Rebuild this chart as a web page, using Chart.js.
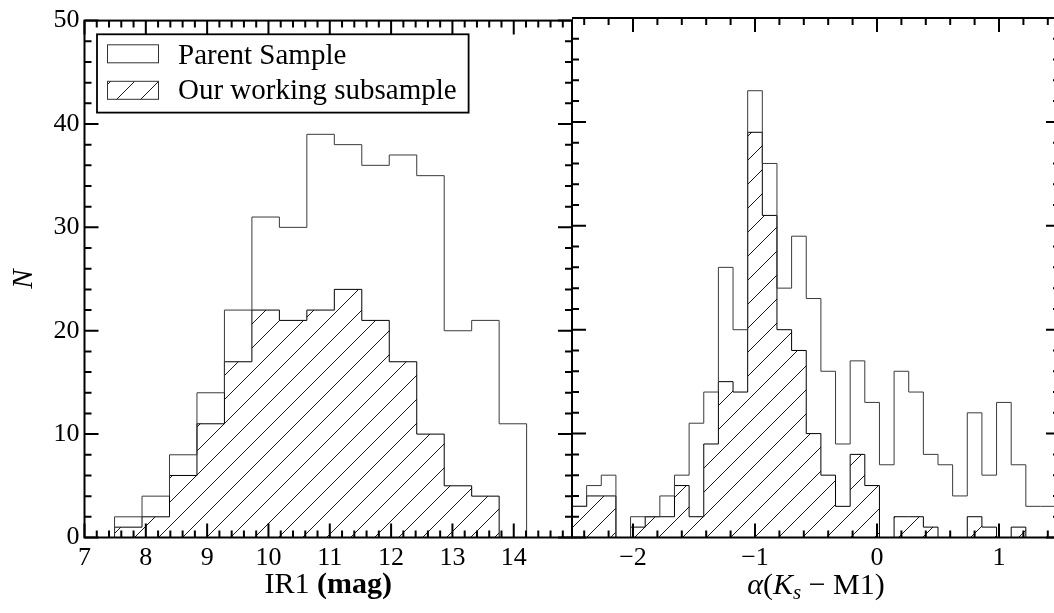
<!DOCTYPE html>
<html>
<head>
<meta charset="utf-8">
<script src="https://cdn.jsdelivr.net/npm/chart.js@4.4.1/dist/chart.umd.min.js"></script>
<style>
html, body { margin:0; padding:0; background:#fff; overflow:hidden; width:1054px; height:613px; }
#left { position:absolute; left:0; top:0; width:574px; height:613px; }
#right { position:absolute; left:572px; top:0; width:488px; height:613px; }
</style>
</head>
<body>
<div id="left"><canvas id="c1"></canvas></div>
<div id="right"><canvas id="c2"></canvas></div>
<script>
// left panel: IR1 magnitude histogram
var irStart = 7.49, irWidth = 0.448;
var irParent = [2,4,8,14,22,31,30,39,38,36,37,35,20,21,11];
var irSub    = [1,2,6,11,17,22,21,22,24,21,17,10,5,4,0];
var irTicks  = [7,8,9,10,11,12,13,14];

// right panel: alpha(Ks - M1) histogram
var alStart = -2.5, alWidth = 0.12;
var alParent = [3,5,6,0,2,2,4,6,11,14,26,20,43,36,24,29,23,16,9,17,13,7,16,14,8,7,4,12,6,13,7,3,3];
var alSub    = [3,4,4,0,1,2,2,5,2,9,15,14,39,31,20,18,10,6,3,8,5,0,2,2,1,0,0,2,1,0,1,0,0];
var alTicks  = [-2,-1,0,1];
var alLabels = ['\u22122','\u22121','0','1'];

var yTicks = [0,10,20,30,40,50];
var seriesNames = ['Parent Sample', 'Our working subsample'];

var SERIF = '"Liberation Serif", "Times New Roman", serif';

function stepPoints(start, w, vals) {
  // point i+1 sits at the right edge of bin i; stepped 'before' draws bin tops
  var p = [{x:start, y:0}];
  for (var i = 0; i < vals.length; i++) {
    p.push({x:start + i*w, y:vals[i]});
    p.push({x:start + (i+1)*w, y:vals[i]});
  }
  p.push({x:start + vals.length*w, y:0});
  return p;
}

function makeHatch() {
  var s = 24;
  var c = document.createElement('canvas');
  c.width = s; c.height = s;
  var g = c.getContext('2d');
  g.strokeStyle = '#000';
  g.lineWidth = 0.9;
  g.beginPath();
  g.moveTo(0, s); g.lineTo(s, 0);
  g.moveTo(-2, 2); g.lineTo(2, -2);
  g.moveTo(s-2, s+2); g.lineTo(s+2, s-2);
  g.stroke();
  return g.createPattern(c, 'repeat');
}
var hatch = makeHatch();

// box + inward ticks, matplotlib style
var frame = {
  id: 'frame',
  afterDatasetsDraw: function(chart, args, o) {
    var ctx = chart.ctx, a = chart.chartArea;
    var xs = chart.scales.x, ys = chart.scales.y;
    ctx.save();
    ctx.strokeStyle = '#000';
    ctx.lineWidth = 2;
    ctx.beginPath();
    function tick(px, isX, len) {
      if (isX) {
        ctx.moveTo(px, a.bottom); ctx.lineTo(px, a.bottom - len);
        ctx.moveTo(px, a.top); ctx.lineTo(px, a.top + len);
      } else {
        ctx.moveTo(a.left, px); ctx.lineTo(a.left + len, px);
        ctx.moveTo(a.right, px); ctx.lineTo(a.right - len, px);
      }
    }
    var v;
    for (v = Math.ceil(xs.min / 0.2 - 1e-6) * 0.2; v <= xs.max + 1e-9; v += 0.2) {
      var major = Math.abs(v - Math.round(v)) < 1e-6;
      tick(xs.getPixelForValue(v), true, major ? 14 : 7);
    }
    for (v = 0; v <= 50; v += 2) {
      tick(ys.getPixelForValue(v), false, v % 10 === 0 ? 14 : 7);
    }
    ctx.stroke();
    ctx.strokeRect(a.left, a.top, a.right - a.left, a.bottom - a.top);
    ctx.restore();
  }
};

function drawRuns(ctx, runs, cx, baseline) {
  var total = 0, i;
  for (i = 0; i < runs.length; i++) {
    ctx.font = runs[i].f;
    total += ctx.measureText(runs[i].t).width;
  }
  var x = cx - total / 2;
  ctx.textAlign = 'left';
  ctx.textBaseline = 'alphabetic';
  for (i = 0; i < runs.length; i++) {
    ctx.font = runs[i].f;
    ctx.fillText(runs[i].t, x, baseline + (runs[i].dy || 0));
    x += ctx.measureText(runs[i].t).width;
  }
}

var leftText = {
  id: 'leftText',
  afterDraw: function(chart) {
    var ctx = chart.ctx, a = chart.chartArea;
    ctx.save();
    ctx.fillStyle = '#000';
    // x title
    drawRuns(ctx, [
      {t:'IR1 ', f:'30px ' + SERIF},
      {t:'(mag)', f:'bold 30px ' + SERIF}
    ], (a.left + a.right) / 2, 593);
    // y title
    ctx.save();
    ctx.translate(24, (a.top + a.bottom) / 2);
    ctx.rotate(-Math.PI / 2);
    ctx.font = 'italic 29px ' + SERIF;
    ctx.textAlign = 'center';
    ctx.textBaseline = 'middle';
    ctx.fillText('N', 0, 0);
    ctx.restore();
    // legend
    var lx = a.left + 12.5, ly = a.top + 13.7;
    ctx.lineWidth = 1.8;
    ctx.strokeStyle = '#000';
    ctx.strokeRect(lx, ly, 371.6, 78.3);
    ctx.lineWidth = 1;
    ctx.strokeStyle = '#333';
    ctx.strokeRect(lx + 10.5, ly + 10.5, 51, 18);
    ctx.fillStyle = hatch;
    ctx.fillRect(lx + 10.5, ly + 47, 51, 18);
    ctx.strokeRect(lx + 10.5, ly + 47, 51, 18);
    ctx.fillStyle = '#000';
    ctx.font = '29px ' + SERIF;
    ctx.textAlign = 'left';
    ctx.textBaseline = 'alphabetic';
    ctx.fillText(seriesNames[0], lx + 81, ly + 30);
    ctx.fillText(seriesNames[1], lx + 81, ly + 65);
    ctx.restore();
  }
};

var rightText = {
  id: 'rightText',
  afterDraw: function(chart) {
    var ctx = chart.ctx, a = chart.chartArea;
    ctx.save();
    ctx.fillStyle = '#000';
    drawRuns(ctx, [
      {t:'\u03b1', f:'italic 30px ' + SERIF},
      {t:'(', f:'30px ' + SERIF},
      {t:'K', f:'italic 30px ' + SERIF},
      {t:'s', f:'italic 21px ' + SERIF, dy:5},
      {t:' \u2212 ', f:'30px ' + SERIF},
      {t:'M1)', f:'30px ' + SERIF}
    ], (a.left + a.right) / 2, 594);
    ctx.restore();
  }
};

function datasets(start, w, par, sub) {
  return [{
    label: seriesNames[0],
    data: stepPoints(start, w, par),
    stepped: 'before',
    borderColor: '#3a3a3a',
    borderWidth: 1,
    pointRadius: 0,
    fill: false
  }, {
    label: seriesNames[1],
    data: stepPoints(start, w, sub),
    stepped: 'before',
    borderColor: '#000',
    borderWidth: 1,
    backgroundColor: hatch,
    pointRadius: 0,
    fill: 'origin'
  }];
}

var tickFont = { family: SERIF, size: 26 };

function baseOptions(xmin, xmax, xTickVals, xLabelFn, showY, padRight) {
  return {
    responsive: true,
    maintainAspectRatio: false,
    animation: false,
    events: [],
    layout: { padding: { top: 18, left: 0, right: padRight, bottom: 0 } },
    plugins: { legend: { display: false }, tooltip: { enabled: false } },
    scales: {
      x: {
        type: 'linear',
        min: xmin,
        max: xmax,
        afterBuildTicks: function(s) { s.ticks = xTickVals.map(function(v){ return {value:v}; }); },
        afterFit: function(s) { s.height = 75.5; },
        grid: { display: false, drawTicks: false },
        border: { display: false },
        ticks: { font: tickFont, color: '#000', padding: 5, maxRotation: 0, autoSkip: false,
                 callback: xLabelFn }
      },
      y: {
        type: 'linear',
        min: 0,
        max: 50,
        display: showY,
        afterBuildTicks: function(s) { s.ticks = yTicks.map(function(v){ return {value:v}; }); },
        afterFit: function(s) { s.width = showY ? 84.5 : 0; },
        grid: { display: false, drawTicks: false },
        border: { display: false },
        ticks: { font: tickFont, color: '#000', padding: 5 }
      }
    }
  };
}

new Chart(document.getElementById('c1'), {
  type: 'line',
  data: { datasets: datasets(irStart, irWidth, irParent, irSub) },
  options: baseOptions(7, 14.95, irTicks, function(v){ return String(v); }, true, 2),
  plugins: [frame, leftText]
});

new Chart(document.getElementById('c2'), {
  type: 'line',
  data: { datasets: datasets(alStart, alWidth, alParent, alSub) },
  options: baseOptions(-2.5, 1.5, alTicks, function(v){ return alLabels[alTicks.indexOf(v)]; }, false, 0),
  plugins: [frame, rightText]
});
</script>
</body>
</html>
